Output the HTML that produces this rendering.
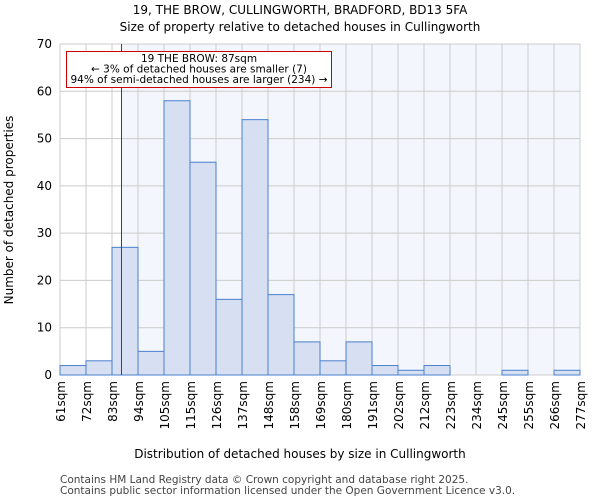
<!DOCTYPE html>
<html><head><meta charset="utf-8"><style>
body{margin:0;background:#fff;font-family:"DejaVu Sans","Liberation Sans",sans-serif}
</style></head><body>
<svg id="c" width="600" height="500" xmlns="http://www.w3.org/2000/svg" font-family="DejaVu Sans, Liberation Sans, sans-serif">
<text x="300" y="14" text-anchor="middle" font-size="12">19, THE BROW, CULLINGWORTH, BRADFORD, BD13 5FA</text>
<text x="300" y="31" text-anchor="middle" font-size="12">Size of property relative to detached houses in Cullingworth</text>
<g id="plot"></g>
<text x="300" y="458" text-anchor="middle" font-size="12">Distribution of detached houses by size in Cullingworth</text>
<text transform="translate(13,210) rotate(-90)" text-anchor="middle" font-size="12">Number of detached properties</text>
<text x="60" y="483" font-size="10.5" fill="#444">Contains HM Land Registry data © Crown copyright and database right 2025.</text>
<text x="60" y="494" font-size="10.5" fill="#444">Contains public sector information licensed under the Open Government Licence v3.0.</text>
</svg>
<script>
const labels=["61sqm","72sqm","83sqm","94sqm","105sqm","115sqm","126sqm","137sqm","148sqm","158sqm","169sqm","180sqm","191sqm","202sqm","212sqm","223sqm","234sqm","245sqm","255sqm","266sqm","277sqm"];
const counts=[2,3,27,5,58,45,16,54,17,7,3,7,2,1,2,0,0,1,0,1];
const yTicks=[0,10,20,30,40,50,60,70];
const propertyIndex=2+4/11;
const L=60,R=580,T=44,B=375,yMax=70;
const n=counts.length,bw=(R-L)/n;
const xs=i=>L+i*bw;
const ys=v=>B-(B-T)*v/yMax;
const NS="http://www.w3.org/2000/svg";
const g=document.getElementById('plot');
function mk(t,a){const e=document.createElementNS(NS,t);for(const k in a)e.setAttribute(k,a[k]);g.appendChild(e);return e;}
const px=Math.round(xs(propertyIndex))+0.5;
let e;
e=mk('rect',{x:L,y:T,width:px-L,height:B-T,fill:'#ffffff'});


e=mk('rect',{x:px,y:T,width:R-px,height:B-T,fill:'#f4f6fd'});


for(let i=0;i<=n;i++){e=mk('line',{x1:xs(i),x2:xs(i),y1:T,y2:B,stroke:'#cccccc','stroke-width':1});

}
yTicks.forEach(v=>{e=mk('line',{x1:L,x2:R,y1:ys(v),y2:ys(v),stroke:'#cccccc','stroke-width':1});


e=mk('text',{x:L-8,y:ys(v)+4,'text-anchor':'end','font-size':12});e.textContent=v;

});
counts.forEach((c,i)=>{if(c<=0)return;e=mk('rect',{x:xs(i),y:ys(c),width:bw,height:B-ys(c),fill:'#d6e0f2',stroke:'#4a7fcf','stroke-width':1});

});
labels.forEach((l,i)=>{const x=xs(i)+5;e=mk('text',{x:x,y:381,'text-anchor':'end','font-size':12,transform:`rotate(-90 ${x} 381)`});e.textContent=l;

});
e=mk('line',{x1:px,x2:px,y1:T,y2:B,stroke:'#e00000','stroke-width':1});


e=mk('rect',{x:66.5,y:51.5,width:265,height:36,fill:'#fff',stroke:'#cc0000','stroke-width':1});


["19 THE BROW: 87sqm","← 3% of detached houses are smaller (7)","94% of semi-detached houses are larger (234) →"].forEach((t,i)=>{e=mk('text',{x:199,y:62+i*10.5,'text-anchor':'middle','font-size':10.5});e.textContent=t;

});
</script>
</body></html>
